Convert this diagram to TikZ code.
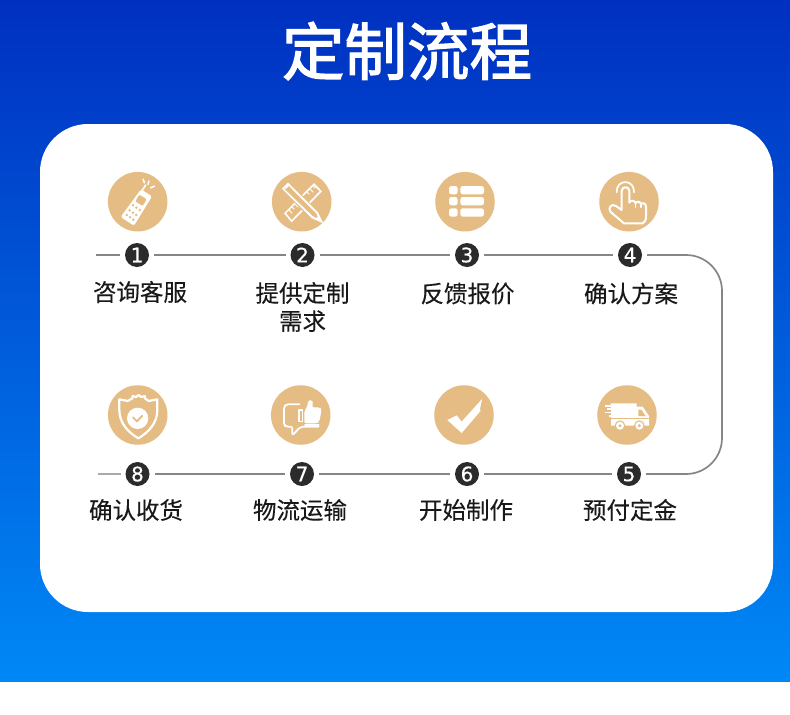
\documentclass[tikz,border=0pt]{standalone}
\usepackage{fontspec}
\newfontfamily\cjk[FakeBold=0.15]{Noto Sans CJK SC}
\newfontfamily\cjktitle[FakeBold=2]{Noto Sans CJK SC}
\newfontfamily\digit[FakeBold=0.5]{DejaVu Sans}
\definecolor{gold}{HTML}{E5BC84}
\definecolor{dark}{HTML}{2B2B2B}
\definecolor{linegray}{HTML}{868686}
\definecolor{topblue}{HTML}{0030C0}
\definecolor{botblue}{HTML}{0088F6}
\tikzset{
  icondisc/.style={circle,fill=gold,minimum size=59.5pt,inner sep=0pt},
  numdot/.style={circle,fill=dark,text=white,minimum size=24pt,inner sep=0pt,outer sep=5pt,font=\digit\fontsize{20}{20}\selectfont},
  label/.style={font=\cjk\fontsize{23.5}{28}\selectfont,text=black!90,align=center,inner sep=0pt},
  flow/.style={draw=linegray,line width=1.7pt},
  icline/.style={draw=white,line width=1.8pt,line join=round,line cap=round},
  zone1/.style={shift={(80,160)},x=1/3*1pt,y=-1/3*1pt},
  zone2/.style={shift={(420,160)},x=1/3*1pt,y=-1/3*1pt},
  zone3/.style={shift={(80,375)},x=1/3*1pt,y=-1/3*1pt},
  zone4/.style={shift={(420,375)},x=1/3*1pt,y=-1/3*1pt},
}
\begin{document}
\begin{tikzpicture}[x=1pt,y=-1pt]
\useasboundingbox (0,0) rectangle (790,715);
\fill[white] (0,0) rectangle (790,715);
\shade[top color=topblue,bottom color=botblue] (0,0) rectangle (790,681);
\fill[white,rounded corners=48pt] (40,124) rectangle (773,612);
\node[font=\cjktitle\fontsize{62.5}{63}\selectfont,text=white,inner sep=0pt] (title) at (407,51) {定制流程};

% icon discs
\node[icondisc] (i1) at (137.7,201.7) {};
\node[icondisc] (i2) at (301.7,201.7) {};
\node[icondisc] (i3) at (465,201.7) {};
\node[icondisc] (i4) at (629,201.7) {};
\node[icondisc] (i8) at (137.7,415) {};
\node[icondisc] (i7) at (300.7,415) {};
\node[icondisc] (i6) at (464,415) {};
\node[icondisc] (i5) at (627,415) {};

% number dots
\node[numdot] (n1) at (137,255) {1};
\node[numdot] (n2) at (302.5,255) {2};
\node[numdot] (n3) at (467,255) {3};
\node[numdot] (n4) at (630,255) {4};
\node[numdot] (n8) at (137.5,474) {8};
\node[numdot] (n7) at (302,474) {7};
\node[numdot] (n6) at (467,474) {6};
\node[numdot] (n5) at (629,474) {5};

% connectors
\coordinate (s1) at (96,255);
\coordinate (s8) at (98,474);
\coordinate (t4) at (722,255);
\coordinate (t5) at (722,474);
\draw[flow] (s1) -- (n1);
\draw[flow] (n1) -- (n2);
\draw[flow] (n2) -- (n3);
\draw[flow] (n3) -- (n4);
\draw[flow,rounded corners=36pt] (n4) -- (t4) -- (t5) -- (n5);
\draw[flow] (n5) -- (n6);
\draw[flow] (n6) -- (n7);
\draw[flow] (n7) -- (n8);
\draw[flow,draw=linegray!70] (n8) -- (s8);

% labels
\node[label] (l1) at (140,292) {咨询客服};
\node[label,text width=100pt] (l2) at (302.5,307) {提供定制\\需求};
\node[label] (l3) at (467.5,293.5) {反馈报价};
\node[label] (l4) at (631,293.5) {确认方案};
\node[label] (l8) at (136,510) {确认收货};
\node[label] (l7) at (300,510) {物流运输};
\node[label] (l6) at (466,510) {开始制作};
\node[label] (l5) at (630,510) {预付定金};

% icon 1: phone
\begin{scope}[zone1]
\fill[white,rounded corners=1.5pt] (183,88) -- (216,109) -- (162,197) -- (122,171) -- cycle;
\fill[gold,rounded corners=1pt] (178,104) -- (200,118) -- (188,138) -- (166,124) -- cycle;
\foreach \a/\b in {159/136,169/143,179/150,149/151,159/158,169/165,140/165,150/172,160/179}
  \fill[gold] (\a,\b) circle (4.2);
\draw[white,line width=1.6pt] (186,92) -- (198,74);
\draw[white,line width=1.6pt] (189,57) -- (194,70);
\draw[white,line width=1.6pt] (207,62) -- (204,74);
\draw[white,line width=1.6pt] (224,78) -- (211,84);
\end{scope}

% icon 2: ruler and pencil
\begin{scope}[zone1]
\fill[white] (612,160) -- (702,69) -- (726,94) -- (635,187) -- cycle;
\fill[gold] (619,160) -- (702,77) -- (718,94) -- (635,179) -- cycle;
\draw[white,line width=.9pt] (628,151) -- (637,160) (637,142) -- (643,148) (646,133) -- (655,142) (691,88) -- (700,97) (700,79) -- (706,85) (682,97) -- (688,103);
\fill[gold] (602,86) -- (624,64) -- (714,153) -- (692,176) -- cycle;
\fill[white] (606,86) -- (624,68) -- (714,157) -- (730,190) -- (696,175) -- cycle;
\fill[gold] (613,86) -- (624,75) -- (708,159) -- (716,177) -- (698,168) -- cycle;
\fill[white] (627,71) -- (630,74) -- (618,87) -- (615,84) -- cycle;
\draw[white,line width=1.1pt] (638,86) -- (704,152);
\fill[white] (714,170) -- (730,190) -- (706,178) -- cycle;
\end{scope}

% icon 3: list
\begin{scope}[zone2]
\foreach \y in {78,111,145} {
  \fill[white,rounded corners=2.5pt] (87,\y) rectangle (113,\y+25);
  \fill[white,rounded corners=2.5pt] (121,\y) rectangle (192,\y+25);
}
\end{scope}

% icon 4: hand
\begin{scope}[zone2]
\draw[icline,line width=2pt] (605,150) -- (605,93) .. controls (605,78) and (628,78) .. (628,93) -- (628,128)
  .. controls (628,120) and (646,120) .. (647,130)
  .. controls (648,123) and (662,123) .. (663,133)
  .. controls (664,127) and (678,128) .. (678,140)
  -- (678,170) .. controls (678,180) and (674,188) .. (668,190)
  -- (612,190) -- (572,156) .. controls (562,146) and (574,128) .. (588,138) -- (605,150);
\draw[icline,line width=1.7pt] (590,97) .. controls (588,56) and (644,56) .. (642,97);
\draw[icline,line width=1.3pt] (647,130) -- (647,142) (663,133) -- (663,142);
\end{scope}

% icon 8: shield
\begin{scope}[zone3]
\draw[icline,line width=2.2pt] (118,73) -- (143,78) -- (157,70) -- (158,63) -- (168,66) -- (176,60) -- (184,66) -- (194,63) -- (195,70) -- (206,78) -- (232,73)
  -- (232,105) .. controls (232,145) and (205,172) .. (175,190) .. controls (145,172) and (118,145) .. (118,105) -- cycle;
\fill[white] (173,130) circle (32);
\draw[gold,line width=1.8pt,line cap=round,line join=round] (159,127) -- (171,139) -- (187,122);
\end{scope}

% icon 7: thumb up
\begin{scope}[zone3]
\draw[icline,rounded corners=2pt] (658,88) -- (618,88) -- (612,95) -- (612,150) -- (618,155) -- (637,155) -- (637,181) -- (662,155) -- (716,155);
\fill[white,rounded corners=2pt] (673,107) -- (682,96) -- (684,76) -- (696,74) -- (700,84) -- (696,97) -- (720,97) -- (725,103) -- (718,140) -- (711,145) -- (673,145) -- cycle;
\draw[icline,line width=1.6pt] (668,105) -- (657,105) -- (657,140) -- (668,140) -- cycle;
\draw[icline] (675,150) -- (716,150);
\end{scope}

% icon 6: check
\begin{scope}[zone4]
\fill[white] (82,135) -- (110,121) -- (125,140) -- (186,72) -- (179,108) -- (184,105) -- (125,174) -- cycle;
\end{scope}

% icon 5: truck
\begin{scope}[zone4]
\fill[white] (572,85) -- (650,85) -- (650,95) -- (668,95) -- (687,123) -- (687,152) -- (573,152) -- (573,125) -- cycle;
\fill[white] (554,90) -- (600,90) -- (600,95) -- (554,95) -- cycle;
\fill[white] (562,100) -- (600,100) -- (600,105) -- (562,105) -- cycle;
\fill[white] (556,110) -- (600,110) -- (600,115) -- (556,115) -- cycle;
\fill[white] (566,120) -- (600,120) -- (600,125) -- (566,125) -- cycle;
\fill[gold] (540,96) rectangle (573,100);
\fill[gold] (548,106) rectangle (573,110);
\fill[gold] (540,116) rectangle (573,120);
\fill[gold] (655,104) -- (664,104) -- (677,123) -- (655,123) -- cycle;
\fill[gold] (573,130) rectangle (687,133);
\foreach \x in {600,658} {
  \fill[gold] (\x,152) circle (16);
  \fill[white] (\x,152) circle (12);
  \fill[gold] (\x,152) circle (5);
}
\end{scope}
\end{tikzpicture}
\end{document}
